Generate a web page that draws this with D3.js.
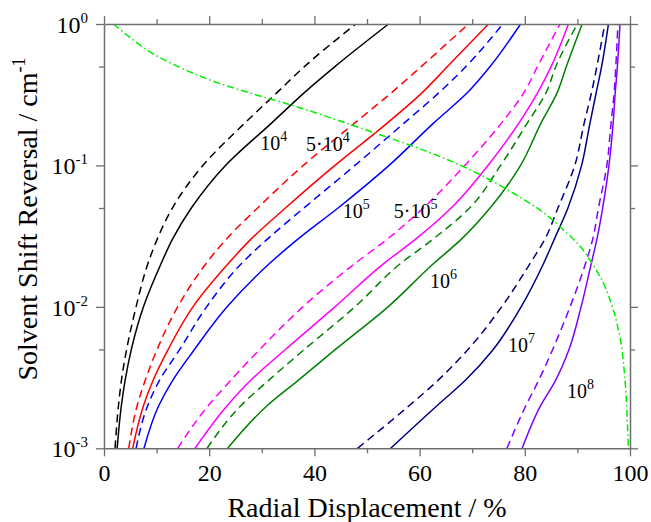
<!DOCTYPE html>
<html>
<head>
<script src="https://cdn.jsdelivr.net/npm/d3@7/dist/d3.min.js"></script>
</head>
<body style="margin:0">
<svg id="chart" width="651" height="522" font-family="Liberation Serif"></svg>
<script>
// Shift reversal levels at which each displacement curve is sampled
const yLevels = [0.001, 0.002, 0.003, 0.005, 0.01, 0.02, 0.03, 0.05, 0.1, 0.2, 0.33, 0.5, 1.0];

// Radial displacement (%) at each level; solid and dashed pairs per parameter value
const x1e4Solid  = [2.5, 3.3, 4.0, 5.2, 7.5, 10.8, 13.0, 16.6, 23.1, 31.9, 38.2, 43.9, 54.1];
const x1e4Dash   = [2.1, 2.75, 3.3, 4.3, 6.1, 8.3, 10.1, 13.0, 18.8, 26.8, 33.0, 38.1, 47.9];
const x5e4Solid  = [5.45, 7.5, 9.3, 12.2, 16.9, 23.5, 27.9, 34.5, 43.9, 53.9, 60.6, 65.3, 73.1];
const x5e4Dash   = [4.7, 6.3, 7.8, 10.1, 14.0, 19.3, 23.2, 29.2, 37.9, 47.7, 54.8, 60.3, 69.3];
const x1e5Solid  = [7.6, 10.4, 13.0, 17.2, 23.4, 31.3, 36.8, 44.5, 54.2, 62.7, 69.2, 73.4, 79.2];
const x1e5Dash   = [6.1, 8.3, 10.5, 14.4, 19.5, 26.0, 31.0, 38.0, 47.7, 57.1, 63.8, 68.8, 75.8];
const x5e5Solid  = [17.3, 23.4, 27.8, 34.5, 43.9, 53.0, 59.2, 66.0, 73.0, 78.9, 82.5, 85.0, 88.3];
const x5e5Dash   = [14.0, 19.8, 24.0, 29.6, 37.8, 47.5, 53.8, 60.7, 68.6, 75.6, 79.9, 82.4, 86.7];
const x1e6Solid  = [23.5, 31.0, 36.8, 44.0, 54.0, 62.5, 67.9, 73.4, 79.2, 83.1, 86.2, 87.9, 90.9];
const x1e6Dash   = [19.6, 26.0, 31.2, 38.1, 47.7, 56.2, 62.5, 69.5, 75.4, 80.5, 84.1, 85.9, 90.0];
const x1e7Solid  = [54.5, 63.3, 68.6, 74.0, 79.3, 83.5, 85.6, 88.2, 90.8, 92.4, 93.6, 94.6, 95.9];
const x1e7Dash   = [48.2, 58.0, 63.4, 69.2, 75.6, 80.9, 83.8, 86.3, 89.5, 91.3, 92.7, 93.7, 95.2];
const x1e8Solid  = [79.5, 83.0, 85.8, 88.4, 90.7, 92.6, 93.7, 94.8, 96.0, 96.8, 97.2, 97.6, 98.1];
const x1e8Dash   = [76.6, 80.2, 82.6, 85.3, 88.6, 91.5, 92.9, 94.0, 95.6, 96.4, 97.0, 97.3, 97.7];

// Boundary curve (dash-dot)
const boundX = [1.8, 8.9, 14.1, 20.0, 29.0, 35.2, 51.7, 60.1, 69.0, 76.2, 86.7, 92.4, 96.2, 97.5, 98.7, 99.3, 99.7];
const boundY = [1.0, 0.63, 0.5, 0.404, 0.315, 0.27, 0.1686, 0.131, 0.0955, 0.069, 0.0369, 0.0214, 0.0112, 0.0077, 0.0042, 0.0022, 0.001];

// Axis ticks
const xMajor = [0, 20, 40, 60, 80, 100];
const xMinor = [10, 30, 50, 70, 90];
const yMajor = [1e-3, 1e-2, 1e-1, 1];
const yMinor = [5e-3, 5e-2, 5e-1];
const yExponents = ["-3", "-2", "-1", "0"];

// Curve labels: base, exponent, anchor (x %, y)
const labelText = [["10", "4"], ["5·10", "4"], ["10", "5"], ["5·10", "5"], ["10", "6"], ["10", "7"], ["10", "8"]];
const labelX = [29.7, 38.4, 45.4, 55.1, 62.0, 76.8, 88.0];
const labelY = [0.1285, 0.1264, 0.0425, 0.0425, 0.0136, 0.0048, 0.00226];

const series = [
  { x: x1e4Solid, color: "#000000", dash: null },
  { x: x1e4Dash,  color: "#000000", dash: "8,5" },
  { x: x5e4Solid, color: "#ff0000", dash: null },
  { x: x5e4Dash,  color: "#ff0000", dash: "8,5" },
  { x: x1e5Solid, color: "#0000ff", dash: null },
  { x: x1e5Dash,  color: "#0000ff", dash: "8,5" },
  { x: x5e5Solid, color: "#ff00ff", dash: null },
  { x: x5e5Dash,  color: "#ff00ff", dash: "8,5" },
  { x: x1e6Solid, color: "#008000", dash: null },
  { x: x1e6Dash,  color: "#008000", dash: "8,5" },
  { x: x1e7Solid, color: "#000080", dash: null },
  { x: x1e7Dash,  color: "#000080", dash: "8,5" },
  { x: x1e8Solid, color: "#8000ff", dash: null },
  { x: x1e8Dash,  color: "#8000ff", dash: "8,5" }
];

const svg = d3.select("#chart");
const plotLeft = 104, plotRight = 630, plotTop = 24, plotBottom = 448.3;

// Serif text helper
function serifText(sel, size) {
  return sel.attr("font-family", "Liberation Serif")
    .style("font-family", "'Liberation Serif'")
    .attr("font-size", size)
    .attr("fill", "#000");
}

const x = d3.scaleLinear().domain([0, 100]).range([plotLeft, plotRight]);
const y = d3.scaleLog().domain([1e-3, 1]).range([plotBottom, plotTop]);

svg.append("clipPath").attr("id", "plotClip")
  .append("rect").attr("x", plotLeft).attr("y", plotTop - 1)
  .attr("width", plotRight - plotLeft).attr("height", plotBottom - plotTop + 2);

const plot = svg.append("g").attr("clip-path", "url(#plotClip)");

const line = d3.line()
  .x(d => x(d[0]))
  .y(d => y(d[1]))
  .curve(d3.curveMonotoneY);

const lineX = d3.line()
  .x(d => x(d[0]))
  .y(d => y(d[1]))
  .curve(d3.curveMonotoneX);

// Displacement curves
series.forEach(s => {
  const pts = s.x.map((v, i) => [v, yLevels[i]]);
  plot.append("path")
    .attr("d", line(pts))
    .attr("fill", "none")
    .attr("stroke", s.color)
    .attr("stroke-width", 1.5)
    .attr("stroke-dasharray", s.dash);
});

// Boundary curve
plot.append("path")
  .attr("d", lineX(boundX.map((v, i) => [v, boundY[i]])))
  .attr("fill", "none")
  .attr("stroke", "#00ee00")
  .attr("stroke-width", 1.5)
  .attr("stroke-dasharray", "7,3,1.5,3");

// Axes
const axisColor = "#6e6e6e";
function styleAxis(g) {
  g.attr("font-family", "Liberation Serif");
  g.select(".domain").attr("stroke", axisColor).attr("stroke-width", 1.5);
  g.selectAll(".tick line").attr("stroke", axisColor).attr("stroke-width", 1.3);
}

const gBottom = svg.append("g").attr("transform", `translate(0,${plotBottom})`)
  .call(d3.axisBottom(x).tickValues(xMajor).tickSize(8).tickSizeOuter(0).tickFormat(""))
  .call(styleAxis);
gBottom.selectAll(".tick").each(function(d) {
  serifText(d3.select(this).append("text"), 24)
    .attr("y", 33).attr("text-anchor", "middle").text(d);
});
svg.append("g").attr("transform", `translate(0,${plotBottom})`)
  .call(d3.axisBottom(x).tickValues(xMinor).tickSize(5).tickSizeOuter(0).tickFormat(""))
  .call(styleAxis).select(".domain").remove();

svg.append("g").attr("transform", `translate(0,${plotTop})`)
  .call(d3.axisTop(x).tickValues(xMajor).tickSize(8).tickSizeOuter(0).tickFormat(""))
  .call(styleAxis);
svg.append("g").attr("transform", `translate(0,${plotTop})`)
  .call(d3.axisTop(x).tickValues(xMinor).tickSize(5).tickSizeOuter(0).tickFormat(""))
  .call(styleAxis).select(".domain").remove();

const gLeft = svg.append("g").attr("transform", `translate(${plotLeft},0)`)
  .call(d3.axisLeft(y).tickValues(yMajor).tickSize(8).tickSizeOuter(0).tickFormat(""))
  .call(styleAxis);
svg.append("g").attr("transform", `translate(${plotLeft},0)`)
  .call(d3.axisLeft(y).tickValues(yMinor).tickSize(5).tickSizeOuter(0).tickFormat(""))
  .call(styleAxis).select(".domain").remove();

svg.append("g").attr("transform", `translate(${plotRight},0)`)
  .call(d3.axisRight(y).tickValues(yMajor).tickSize(8).tickSizeOuter(0).tickFormat(""))
  .call(styleAxis);
svg.append("g").attr("transform", `translate(${plotRight},0)`)
  .call(d3.axisRight(y).tickValues(yMinor).tickSize(5).tickSizeOuter(0).tickFormat(""))
  .call(styleAxis).select(".domain").remove();

// Power-of-ten labels on the left axis
gLeft.selectAll(".tick").each(function(d) {
  const t = serifText(d3.select(this).append("text"), 24)
    .attr("x", -16).attr("y", 8.5)
    .attr("text-anchor", "end");
  t.append("tspan").text("10");
  t.append("tspan").attr("font-size", 15).attr("dy", -10).text(yExponents[yMajor.indexOf(d)]);
});

// Curve labels
labelText.forEach((lt, i) => {
  const t = serifText(svg.append("text"), 20)
    .attr("x", x(labelX[i])).attr("y", y(labelY[i]));
  t.append("tspan").text(lt[0]);
  t.append("tspan").attr("font-size", 14).attr("dy", -9).text(lt[1]);
});

// Axis titles
serifText(svg.append("text"), 28)
  .attr("x", (plotLeft + plotRight) / 2).attr("y", 517)
  .attr("text-anchor", "middle")
  .text("Radial Displacement / %");

const yt = serifText(svg.append("text"), 28)
  .attr("transform", "translate(37,219) rotate(-90)")
  .attr("text-anchor", "middle");
yt.append("tspan").text("Solvent Shift Reversal / cm");
yt.append("tspan").attr("font-size", 18).attr("dy", -12).text("-1");
</script>
</body>
</html>
